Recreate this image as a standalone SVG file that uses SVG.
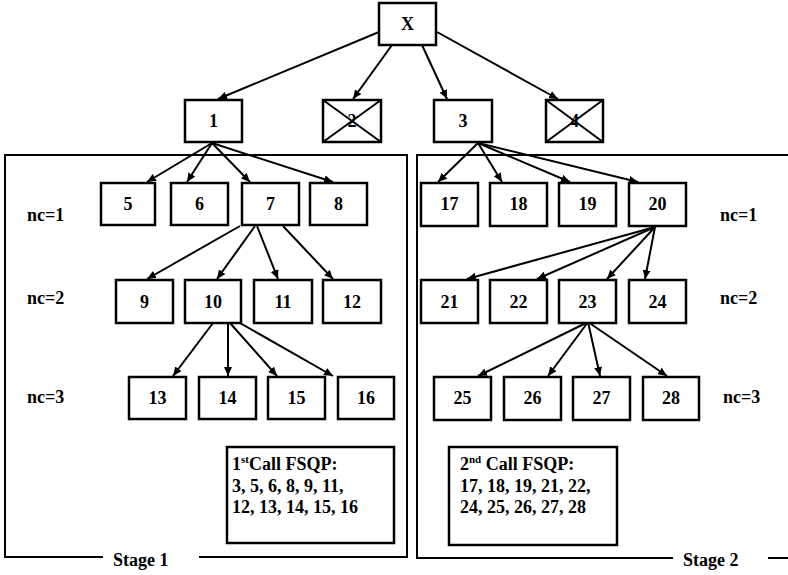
<svg xmlns="http://www.w3.org/2000/svg" width="788" height="575" viewBox="0 0 788 575">
<defs>
<style>
.b{fill:#fff;stroke:#000;stroke-width:2.5}
.t{font-family:"Liberation Serif","Times New Roman",serif;font-weight:bold;font-size:18px;fill:#000}
.c{text-anchor:middle}
.e{fill:none;stroke:#000;stroke-width:2}
.p{fill:none;stroke:#000;stroke-width:2}
.x{stroke:#000;stroke-width:2}
</style>
<marker id="ah" markerUnits="userSpaceOnUse" markerWidth="10" markerHeight="8" refX="9" refY="4" orient="auto">
<path d="M0,0 L9,4 L0,8 z" fill="#000"/>
</marker>
</defs>
<rect width="788" height="575" fill="#fff"/>
<g id="panels">
<polyline class="p" points="103,557 5,557 5,155 407,155 407,557 199,557"/>
<polyline class="p" points="673,558 417,558 417,155 788,155"/>
<line class="p" x1="768" y1="558" x2="788" y2="558"/>
<text class="t" x="113" y="566">Stage 1</text>
<text class="t" x="683" y="566">Stage 2</text>
</g>
<g id="labels">
<text class="t" x="27" y="221">nc=1</text>
<text class="t" x="27" y="304">nc=2</text>
<text class="t" x="27" y="403">nc=3</text>
<text class="t" x="720" y="221">nc=1</text>
<text class="t" x="720" y="304">nc=2</text>
<text class="t" x="723" y="403">nc=3</text>
</g>
<g id="connectors">
<line class="e" marker-end="url(#ah)" x1="379" y1="32" x2="218" y2="99"/>
<line class="e" marker-end="url(#ah)" x1="392" y1="45" x2="353" y2="99"/>
<line class="e" marker-end="url(#ah)" x1="422" y1="45" x2="447" y2="99"/>
<line class="e" marker-end="url(#ah)" x1="437" y1="32" x2="558" y2="99"/>
<line class="e" marker-end="url(#ah)" x1="212" y1="143" x2="147" y2="182"/>
<line class="e" marker-end="url(#ah)" x1="212" y1="143" x2="187" y2="182"/>
<line class="e" marker-end="url(#ah)" x1="212" y1="143" x2="250" y2="182"/>
<line class="e" marker-end="url(#ah)" x1="212" y1="143" x2="333" y2="182"/>
<line class="e" marker-end="url(#ah)" x1="478" y1="143" x2="438" y2="182"/>
<line class="e" marker-end="url(#ah)" x1="478" y1="143" x2="502" y2="182"/>
<line class="e" marker-end="url(#ah)" x1="478" y1="143" x2="570" y2="182"/>
<line class="e" marker-end="url(#ah)" x1="478" y1="143" x2="638" y2="182"/>
<line class="e" marker-end="url(#ah)" x1="240" y1="226" x2="147" y2="279"/>
<line class="e" marker-end="url(#ah)" x1="255" y1="226" x2="217" y2="279"/>
<line class="e" marker-end="url(#ah)" x1="257" y1="226" x2="278" y2="279"/>
<line class="e" marker-end="url(#ah)" x1="283" y1="226" x2="333" y2="279"/>
<line class="e" marker-end="url(#ah)" x1="655" y1="227" x2="467" y2="279"/>
<line class="e" marker-end="url(#ah)" x1="655" y1="227" x2="537" y2="279"/>
<line class="e" marker-end="url(#ah)" x1="655" y1="227" x2="607" y2="279"/>
<line class="e" marker-end="url(#ah)" x1="655" y1="227" x2="645" y2="279"/>
<line class="e" marker-end="url(#ah)" x1="213" y1="323" x2="173" y2="376"/>
<line class="e" marker-end="url(#ah)" x1="228" y1="323" x2="228" y2="376"/>
<line class="e" marker-end="url(#ah)" x1="230" y1="323" x2="277" y2="376"/>
<line class="e" marker-end="url(#ah)" x1="240" y1="323" x2="333" y2="376"/>
<line class="e" marker-end="url(#ah)" x1="588" y1="322" x2="478" y2="376"/>
<line class="e" marker-end="url(#ah)" x1="588" y1="322" x2="548" y2="376"/>
<line class="e" marker-end="url(#ah)" x1="588" y1="322" x2="600" y2="376"/>
<line class="e" marker-end="url(#ah)" x1="588" y1="322" x2="667" y2="376"/>
</g>
<g id="nX"><rect class="b" x="379" y="3" width="57" height="42"/><text class="t c" x="407.5" y="30">X</text></g>
<g id="n1"><rect class="b" x="185" y="100" width="57" height="42"/><text class="t c" x="213.5" y="127">1</text></g>
<g id="n2"><rect class="b" x="323" y="100" width="58" height="42"/><text class="t c" x="352" y="127">2</text><line class="x" x1="323" y1="100" x2="381" y2="142"/><line class="x" x1="381" y1="100" x2="323" y2="142"/></g>
<g id="n3"><rect class="b" x="434" y="100" width="58" height="42"/><text class="t c" x="463" y="127">3</text></g>
<g id="n4"><rect class="b" x="546" y="100" width="57" height="42"/><text class="t c" x="574.5" y="127">4</text><line class="x" x1="546" y1="100" x2="603" y2="142"/><line class="x" x1="603" y1="100" x2="546" y2="142"/></g>
<g id="n5"><rect class="b" x="101" y="183" width="54" height="42"/><text class="t c" x="128" y="210">5</text></g>
<g id="n6"><rect class="b" x="171" y="183" width="57" height="42"/><text class="t c" x="199.5" y="210">6</text></g>
<g id="n7"><rect class="b" x="242" y="183" width="57" height="42"/><text class="t c" x="270.5" y="210">7</text></g>
<g id="n8"><rect class="b" x="310" y="183" width="57" height="42"/><text class="t c" x="338.5" y="210">8</text></g>
<g id="n9"><rect class="b" x="116" y="280" width="57" height="43"/><text class="t c" x="144.5" y="308">9</text></g>
<g id="n10"><rect class="b" x="185" y="280" width="56" height="43"/><text class="t c" x="213" y="308">10</text></g>
<g id="n11"><rect class="b" x="254" y="280" width="58" height="43"/><text class="t c" x="283" y="308">11</text></g>
<g id="n12"><rect class="b" x="323" y="280" width="58" height="43"/><text class="t c" x="352" y="308">12</text></g>
<g id="n13"><rect class="b" x="129" y="377" width="57" height="42"/><text class="t c" x="157.5" y="404">13</text></g>
<g id="n14"><rect class="b" x="199" y="377" width="57" height="42"/><text class="t c" x="227.5" y="404">14</text></g>
<g id="n15"><rect class="b" x="268" y="377" width="57" height="42"/><text class="t c" x="296.5" y="404">15</text></g>
<g id="n16"><rect class="b" x="338" y="377" width="56" height="42"/><text class="t c" x="366" y="404">16</text></g>
<g id="n17"><rect class="b" x="421" y="183" width="57" height="43"/><text class="t c" x="449.5" y="210">17</text></g>
<g id="n18"><rect class="b" x="490" y="183" width="57" height="43"/><text class="t c" x="518.5" y="210">18</text></g>
<g id="n19"><rect class="b" x="559" y="183" width="57" height="43"/><text class="t c" x="587.5" y="210">19</text></g>
<g id="n20"><rect class="b" x="629" y="183" width="57" height="43"/><text class="t c" x="657.5" y="210">20</text></g>
<g id="n21"><rect class="b" x="421" y="280" width="57" height="43"/><text class="t c" x="449.5" y="308">21</text></g>
<g id="n22"><rect class="b" x="490" y="280" width="57" height="43"/><text class="t c" x="518.5" y="308">22</text></g>
<g id="n23"><rect class="b" x="559" y="280" width="57" height="43"/><text class="t c" x="587.5" y="308">23</text></g>
<g id="n24"><rect class="b" x="629" y="280" width="57" height="43"/><text class="t c" x="657.5" y="308">24</text></g>
<g id="n25"><rect class="b" x="434" y="377" width="57" height="43"/><text class="t c" x="462.5" y="404">25</text></g>
<g id="n26"><rect class="b" x="504" y="377" width="57" height="43"/><text class="t c" x="532.5" y="404">26</text></g>
<g id="n27"><rect class="b" x="573" y="377" width="57" height="43"/><text class="t c" x="601.5" y="404">27</text></g>
<g id="n28"><rect class="b" x="643" y="377" width="56" height="43"/><text class="t c" x="671" y="404">28</text></g>
<g id="call1"><rect class="b" x="227" y="447" width="167" height="96"/>
<text class="t" x="232" y="470">1<tspan font-size="11" dy="-7">st</tspan><tspan dy="7">Call FSQP:</tspan></text>
<text class="t" x="232" y="492">3, 5, 6, 8, 9, 11,</text>
<text class="t" x="232" y="513">12, 13, 14, 15, 16</text>
</g>
<g id="call2"><rect class="b" x="449" y="447" width="168" height="98"/>
<text class="t" x="460" y="470">2<tspan font-size="11" dy="-7">nd</tspan><tspan dy="7"> Call FSQP:</tspan></text>
<text class="t" x="460" y="492">17, 18, 19, 21, 22,</text>
<text class="t" x="460" y="513">24, 25, 26, 27, 28</text>
</g>
</svg>
